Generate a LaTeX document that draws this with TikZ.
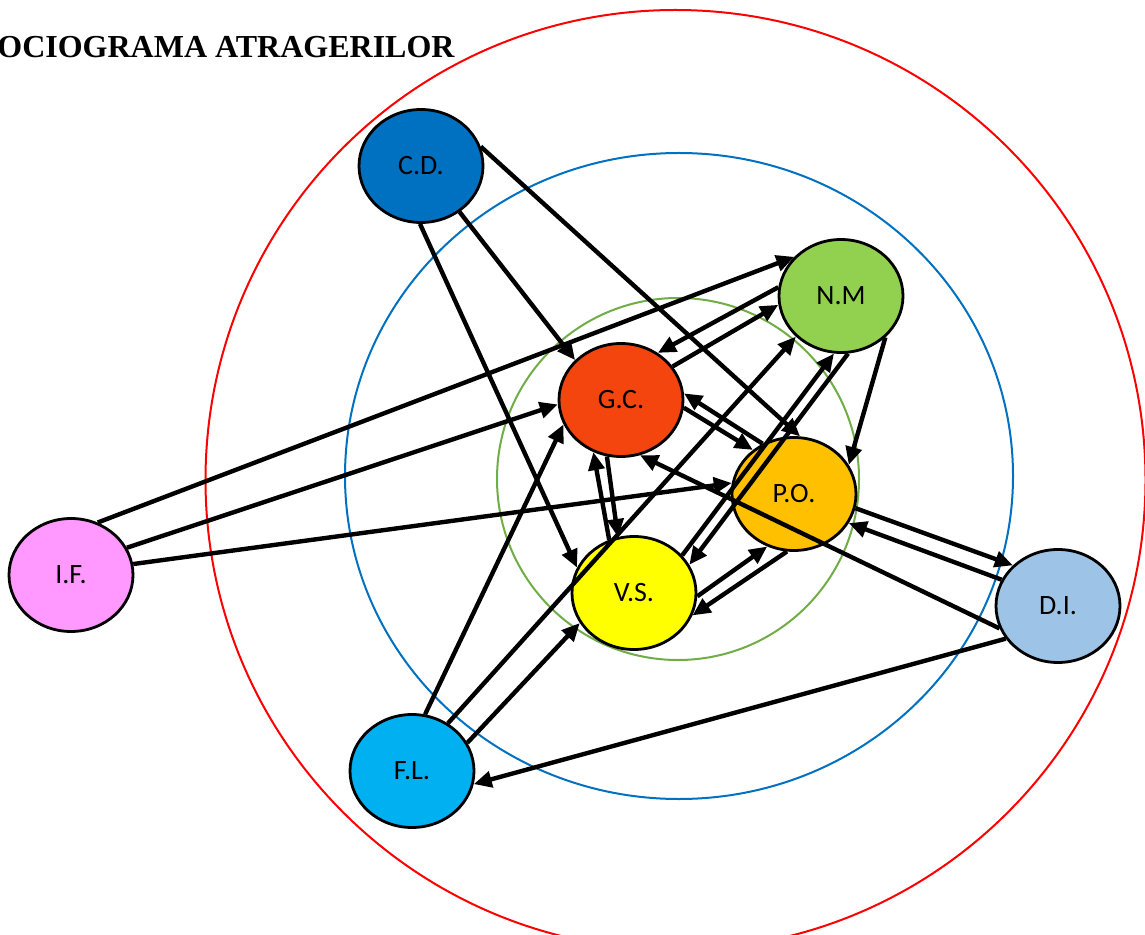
\documentclass[tikz,border=0pt]{standalone}
\usepackage{fontspec}
\setmainfont{Liberation Serif}
\newfontfamily\labelfont{Carlito}
\usetikzlibrary{shapes.geometric, arrows.meta}

\definecolor{cdblue}{RGB}{0,112,192}
\definecolor{nmgreen}{RGB}{146,208,80}
\definecolor{gcred}{RGB}{244,69,14}
\definecolor{poorange}{RGB}{255,192,0}
\definecolor{vsyellow}{RGB}{255,255,0}
\definecolor{ifpink}{RGB}{255,153,255}
\definecolor{flcyan}{RGB}{0,176,240}
\definecolor{dilight}{RGB}{157,195,230}
\definecolor{ringgreen}{RGB}{112,173,71}

\begin{document}
\begin{tikzpicture}[x=0.5pt, y=-0.5pt,
  >={Triangle[length=9pt, width=8pt]},
  person/.style={draw, ellipse, line width=1.4pt, minimum width=62pt, minimum height=56.5pt, inner sep=0pt, font=\labelfont\fontsize{14}{16}\selectfont},
  ring/.style={line width=1pt},
  link/.style={->, line width=2.2pt}]
  \path[use as bounding box, clip] (0,0) rectangle (1145,935);

  \draw[ring, red] (675.5,480) circle [radius=235pt];
  \draw[ring, cdblue] (679,476) circle [x radius=167pt, y radius=161.5pt];
  \draw[ring, ringgreen] (678,479) circle [radius=90.5pt];

  \node[anchor=base west, inner sep=0pt, font=\bfseries\fontsize{16}{19}\selectfont] (title) at (-3,58) {OCIOGRAMA ATRAGERILOR};

  \node[person, fill=cdblue] (CD) at (421,166) {C.D.};
  \node[person, fill=nmgreen] (NM) at (841,296) {N.M};
  \node[person, fill=gcred] (GC) at (621,400) {G.C.};
  \node[person, fill=poorange] (PO) at (794,494) {P.O.};
  \node[person, fill=vsyellow] (VS) at (634,593) {V.S.};
  \node[person, fill=ifpink] (IF) at (71,575) {I.F.};
  \node[person, fill=flcyan] (FL) at (412,771) {F.L.};
  \node[person, fill=dilight] (DI) at (1058,606) {D.I.};

  \draw[link] (CD.-50) -- (GC.139);
  \draw[link] (CD.-91) -- (VS.156);
  \draw[link] (CD.18) -- (PO.84);
  \draw[link] (NM.172) -- (GC.52);
  \draw[link] (GC.33) -- (NM.-172);
  \draw[link] (IF.63) -- (NM.140);
  \draw[link] (IF.26) -- (GC.-176);
  \draw[link] (IF.10) -- (PO.170);
  \draw[link] (NM.-43) -- (PO.28);
  \draw[link] (GC.-7) -- (PO.133);
  \draw[link] (PO.122) -- (GC.6);
  \draw[link] (VS.115) -- (GC.-118);
  \draw[link] (GC.-104) -- (VS.106);
  \draw[link] (DI.-159) -- (GC.-71);
  \draw[link] (DI.-148) -- (FL.-12);
  \draw[link] (PO.-13) -- (DI.138);
  \draw[link] (DI.155) -- (PO.-28);
  \draw[link] (FL.77) -- (GC.-157);
  \draw[link] (FL.53) -- (NM.-138);
  \draw[link] (VS.38) -- (NM.-97);
  \draw[link] (NM.-83) -- (VS.27);
  \draw[link] (VS.-3) -- (PO.-117);
  \draw[link] (PO.-97) -- (VS.-21);
  \draw[link] (FL.27) -- (VS.-151);
\end{tikzpicture}
\end{document}
